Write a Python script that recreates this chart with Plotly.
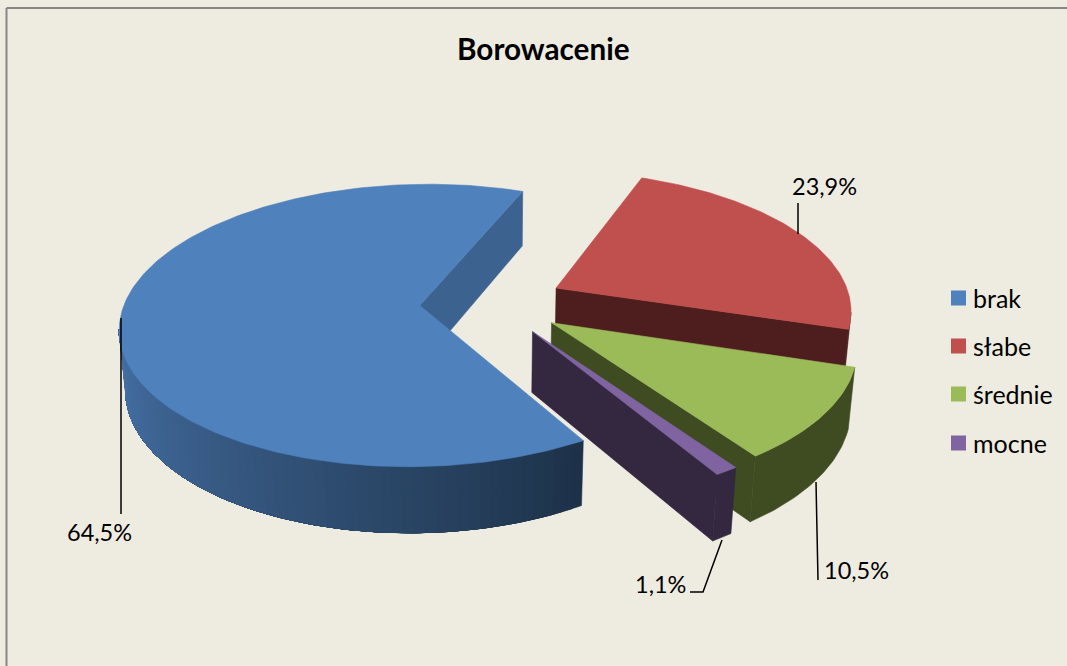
import math
import plotly.graph_objects as go

# Chart content
title_text = "Borowacenie"
categories = ["brak", "słabe", "średnie", "mocne"]
shares = [64.5, 23.9, 10.5, 1.1]

# Slice colours: top face, outer wall, cut face
top_colors = ["#4F81BD", "#C0504D", "#9BBB59", "#8064A2"]
wall_colors = ["#1D3249", "#4E1E1E", "#3F4C21", "#332840"]
cut_colors = ["#3C628F", "#4E1E1E", "#3F4C21", "#332840"]
blue_wall_light = (70, 113, 166)

# Projection of the tilted pie onto the page
WIDTH, HEIGHT = 1067, 666
CENTER_X, CENTER_Y = 492.0, 302.5
SCALE = 295.0
ELEV = math.radians(27.8)
CAM_DIST = 6.25
THICK = 0.232
EXPLODE = 0.245
FIRST_ANGLE = 149.0
SHADE_BANDS = 60


def project(x, y, z):
    w = 1 - (y * math.cos(ELEV) + z * math.sin(ELEV)) / CAM_DIST
    s = y * math.sin(ELEV) - z * math.cos(ELEV)
    return CENTER_X + SCALE * x / w, CENTER_Y + SCALE * s / w


def polar(theta_deg):
    t = math.radians(theta_deg)
    return math.sin(t), -math.cos(t)


def add_poly(fig, pts, color, name=None):
    fig.add_trace(go.Scatter(
        x=[p[0] for p in pts] + [pts[0][0]],
        y=[p[1] for p in pts] + [pts[0][1]],
        mode="lines", fill="toself", fillcolor=color,
        line=dict(color=color, width=0.6),
        hoverinfo="skip" if name is None else "name",
        name=name or "", showlegend=False,
    ))


def blend(light, dark_hex, f):
    dark = tuple(int(dark_hex[i:i + 2], 16) for i in (1, 3, 5))
    return "rgb(%d,%d,%d)" % tuple(round(a + (b - a) * f) for a, b in zip(light, dark))


fig = go.Figure()

total = sum(shares)
start = FIRST_ANGLE
for idx, (cat, val) in enumerate(zip(categories, shares)):
    sweep = 360.0 * val / total
    end = start + sweep
    mid = start + sweep / 2
    ox, oy = (EXPLODE * c for c in polar(mid))
    steps = max(6, int(sweep))
    angles = [start + sweep * i / steps for i in range(steps + 1)]
    apex_t, apex_b = project(ox, oy, 0), project(ox, oy, -THICK)

    def rim(theta, z):
        ux, uy = polar(theta)
        return project(ox + ux, oy + uy, z)

    # Cut faces are only drawn when they turn towards the viewer
    for theta, sign in ((start, -1), (end, 1)):
        a, b = rim(theta, 0), rim(theta, -THICK)
        cross = (a[0] - apex_t[0]) * (b[1] - a[1]) - (a[1] - apex_t[1]) * (b[0] - a[0])
        if cross * sign > 0:
            add_poly(fig, [apex_t, a, b, apex_b], cut_colors[idx])

    # Outer wall, limited to the arc that faces the viewer
    arc = [a0 for a0, a1 in zip(angles, angles[1:]) if rim(a1, 0)[0] < rim(a0, 0)[0]]
    if arc:
        lo, hi = arc[0], arc[-1] + sweep / steps

        def wall(a0, a1):
            n = max(2, int(a1 - a0) + 1)
            ts = [a0 + (a1 - a0) * i / n for i in range(n + 1)]
            return [rim(t, 0) for t in ts] + [rim(t, -THICK) for t in reversed(ts)]

        if idx == 0:
            # Bands stack from the dark end towards the light end, each one
            # lying over the previous, so no seams appear between them
            for b in range(SHADE_BANDS):
                f = b / (SHADE_BANDS - 1)
                shade = blend(blue_wall_light, wall_colors[0], (1 - f) ** 1.1)
                add_poly(fig, wall(lo + (hi - lo) * f, hi), shade)
        else:
            add_poly(fig, wall(lo, hi), wall_colors[idx])

    # Top face
    add_poly(fig, [apex_t] + [rim(t, 0) for t in angles], top_colors[idx], name=cat)
    start = end

# Colour key on the right-hand side
key_rows = [298, 346, 394, 443]
for cat, col, row in zip(categories, top_colors, key_rows):
    fig.add_trace(go.Scatter(
        x=[958.5], y=[row], mode="markers", name=cat,
        marker=dict(symbol="square", size=15, color=col, line=dict(width=0)),
        hoverinfo="name", showlegend=False,
    ))

# Leader lines from the slices to their labels
leaders = [
    [(121, 318), (121, 514)],
    [(798, 234), (798, 203)],
    [(816, 482), (818, 580)],
    [(722, 540), (703, 592), (690, 592)],
]
for pts in leaders:
    fig.add_trace(go.Scatter(
        x=[p[0] for p in pts], y=[p[1] for p in pts], mode="lines",
        line=dict(color="#000000", width=1.5), hoverinfo="skip", showlegend=False,
    ))

label_font = dict(family="Lato, sans-serif", size=23.5, color="#000000")
label_spots = [(99, 532), (824, 186), (856, 570), (660, 584)]
annotations = [
    dict(x=x, y=y, xref="x", yref="y", showarrow=False, font=label_font,
         text=f"{v:.1f}%".replace(".", ","))
    for v, (x, y) in zip(shares, label_spots)
]
annotations.append(dict(
    x=543, y=48, xref="x", yref="y", showarrow=False, text=f"<b>{title_text}</b>",
    font=dict(family="Lato, sans-serif", size=29.7, color="#000000"),
))
annotations.extend(
    dict(x=971, y=row, xref="x", yref="y", xanchor="left", showarrow=False, text=cat,
         font=dict(family="Lato, sans-serif", size=25, color="#000000"))
    for cat, row in zip(categories, key_rows)
)

# Chart frame: top and left edges only
shapes = [
    dict(type="line", x0=6.5, x1=WIDTH, y0=8, y1=8, line=dict(color="#868686", width=2)),
    dict(type="line", x0=6.5, x1=6.5, y0=8, y1=HEIGHT, line=dict(color="#868686", width=2)),
]

fig.update_layout(
    width=WIDTH, height=HEIGHT,
    margin=dict(l=0, r=0, t=0, b=0),
    paper_bgcolor="#EEECE1", plot_bgcolor="#EEECE1",
    xaxis=dict(range=[0, WIDTH], visible=False, fixedrange=True),
    yaxis=dict(range=[HEIGHT, 0], visible=False, fixedrange=True),
    annotations=annotations, shapes=shapes,
    showlegend=False,
)

fig.write_html("out.html", config={"displayModeBar": False})
